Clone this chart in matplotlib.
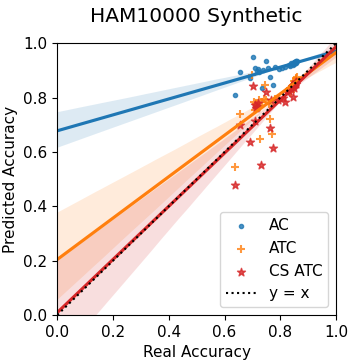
import matplotlib
matplotlib.use("Agg")
import matplotlib.pyplot as plt
import seaborn as sns

# values (dense clusters near the top right hold many overlapping points)
ac_real = [0.639, 0.655, 0.692, 0.703, 0.709, 0.715, 0.720, 0.725, 0.733, 0.738, 0.748, 0.756,
           0.762, 0.775, 0.780, 0.796, 0.805, 0.816, 0.830, 0.840, 0.845, 0.850, 0.852, 0.855, 0.857,
           0.835, 0.842, 0.848, 0.851, 0.853, 0.856, 0.858, 0.860, 0.847, 0.854]
ac_pred = [0.810, 0.893, 0.872, 0.948, 0.909, 0.898, 0.904, 0.895, 0.837, 0.902, 0.934, 0.909,
           0.875, 0.848, 0.912, 0.904, 0.908, 0.913, 0.919, 0.926, 0.921, 0.933, 0.927, 0.935, 0.931,
           0.917, 0.923, 0.928, 0.925, 0.932, 0.928, 0.934, 0.936, 0.926, 0.930]

atc_real = [0.637, 0.655, 0.697, 0.706, 0.708, 0.720, 0.729, 0.735, 0.745, 0.750, 0.760, 0.762,
            0.772, 0.780, 0.840, 0.845, 0.850, 0.855, 0.857, 0.860,
            0.830, 0.835, 0.842, 0.848, 0.852, 0.854, 0.858, 0.712, 0.725, 0.740]
atc_pred = [0.545, 0.740, 0.882, 0.785, 0.755, 0.770, 0.648, 0.785, 0.845, 0.790, 0.775, 0.720,
            0.665, 0.795, 0.820, 0.845, 0.860, 0.871, 0.855, 0.875,
            0.830, 0.835, 0.843, 0.851, 0.855, 0.863, 0.867, 0.775, 0.790, 0.795]

cs_real = [0.639, 0.655, 0.690, 0.703, 0.709, 0.712, 0.709, 0.730, 0.748, 0.762, 0.768, 0.775,
           0.792, 0.810, 0.816, 0.846, 0.847, 0.850, 0.852, 0.855, 0.858,
           0.825, 0.832, 0.838, 0.842, 0.849, 0.853, 0.856, 0.715, 0.720]
cs_pred = [0.480, 0.701, 0.637, 0.842, 0.774, 0.761, 0.713, 0.551, 0.821, 0.690, 0.793, 0.613,
           0.790, 0.800, 0.784, 0.801, 0.844, 0.834, 0.854, 0.849, 0.859,
           0.819, 0.826, 0.832, 0.839, 0.846, 0.852, 0.856, 0.766, 0.782]

plt.rcParams['font.size'] = 11

fig = plt.figure(figsize=(3.55, 3.63), dpi=100)
ax = fig.add_axes([0.1614, 0.1322, 0.7851, 0.7485])
ax.set_xlim(0, 1)
ax.set_ylim(0, 1)

sns.regplot(x=ac_real, y=ac_pred, ax=ax, marker='.', color='C0', label='AC',
            truncate=False, ci=68, seed=0)
sns.regplot(x=atc_real, y=atc_pred, ax=ax, marker='+', color='C1', label='ATC',
            truncate=False, ci=68, seed=0)
sns.regplot(x=cs_real, y=cs_pred, ax=ax, marker='*', color='C3', label='CS ATC',
            truncate=False, ci=68, seed=0)
ax.plot([0, 1], [0, 1], 'k:', label='y = x')

ax.set_xlim(0, 1)
ax.set_ylim(0, 1)
ax.set_xlabel('Real Accuracy')
ax.set_ylabel('Predicted Accuracy')
ax.set_title('HAM10000 Synthetic', fontsize=14.5, pad=15)
ax.legend(loc='lower right')

fig.savefig('out.png', dpi=100)
